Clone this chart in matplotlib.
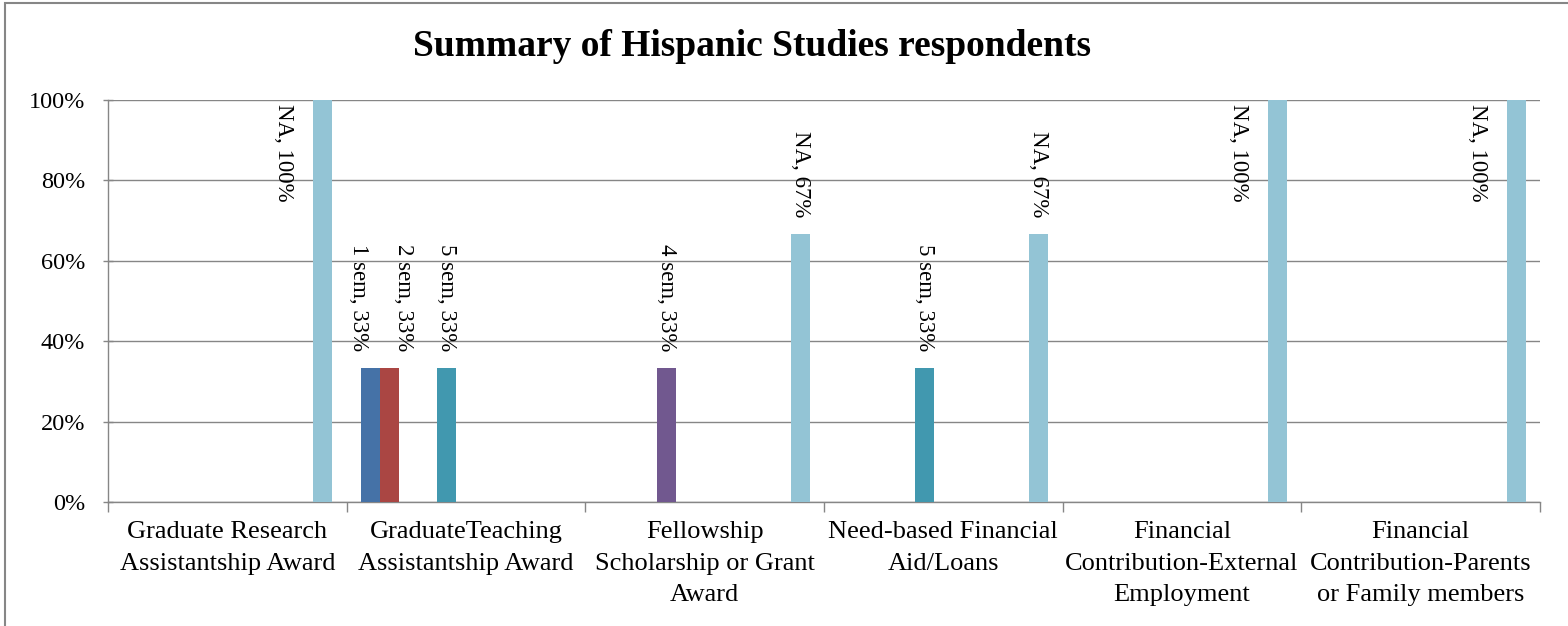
import numpy as np
import matplotlib
matplotlib.use("Agg")
import matplotlib.pyplot as plt
from matplotlib.patches import Rectangle

plt.rcParams['font.family'] = ['Liberation Serif', 'DejaVu Serif']

categories = ["Graduate Research\nAssistantship Award",
              "GraduateTeaching\nAssistantship Award",
              "Fellowship\nScholarship or Grant\nAward",
              "Need-based Financial\nAid/Loans",
              "Financial\nContribution-External\nEmployment",
              "Financial\nContribution-Parents\nor Family members"]

series_names = ["1 sem", "2 sem", "3 sem", "4 sem", "5 sem", "6 sem",
                "7 sem", "8 sem", "9 sem", "10 sem", "NA"]

# share of respondents per category, one list per series
sem1 = [0, 0.333, 0, 0, 0, 0]
sem2 = [0, 0.333, 0, 0, 0, 0]
sem3 = [0, 0, 0, 0, 0, 0]
sem4 = [0, 0, 0.333, 0, 0, 0]
sem5 = [0, 0.333, 0, 0.333, 0, 0]
sem6 = [0, 0, 0, 0, 0, 0]
sem7 = [0, 0, 0, 0, 0, 0]
sem8 = [0, 0, 0, 0, 0, 0]
sem9 = [0, 0, 0, 0, 0, 0]
sem10 = [0, 0, 0, 0, 0, 0]
na = [1.0, 0, 0.667, 0.667, 1.0, 1.0]

values = [sem1, sem2, sem3, sem4, sem5, sem6, sem7, sem8, sem9, sem10, na]

colors = ["#4572A7", "#AA4643", "#89A54E", "#71588F", "#4198AF", "#DB843D",
          "#93A9CF", "#D19392", "#B9CD96", "#A99BBD", "#93C4D5"]

fig = plt.figure(figsize=(15.68, 6.26), dpi=100)
ax = fig.add_axes([108/1568, 1 - 502/626, (1540 - 108)/1568, 402/626])

n = len(series_names)
width = 1.0 / (n + 1.5)
x = np.arange(len(categories))

for i, (name, vals) in enumerate(zip(series_names, values)):
    pos = x - 0.5 + width * 0.75 + width * (i + 0.5)
    ax.bar(pos, vals, width, color=colors[i], zorder=3)
    for j, v in enumerate(vals):
        if v == 0:
            continue
        txt = "%s, %d%%" % (name, round(v * 100))
        if v >= 0.999:
            # label does not fit above a full bar, so Excel puts it beside
            ax.annotate(txt, (pos[j], v), xytext=(-28, -3), textcoords='offset points',
                        rotation=-90, ha='center', va='top', fontsize=16.5, zorder=4)
        else:
            dx = 0
            if i + 1 < n and values[i + 1][j] > 0:
                dx = -9
            elif i > 0 and values[i - 1][j] > 0:
                dx = 10
            ax.annotate(txt, (pos[j], v), xytext=(dx, 12), textcoords='offset points',
                        rotation=-90, ha='center', va='bottom', fontsize=16.5, zorder=4)

ax.set_xlim(-0.5, len(categories) - 0.5)
ax.set_ylim(0, 1)
ax.set_yticks(np.arange(0, 1.01, 0.2))
ax.set_yticklabels(["%d%%" % t for t in range(0, 101, 20)])
ax.yaxis.grid(True, color="#868686", linewidth=1.0, zorder=0)
ax.set_axisbelow(True)

ax.set_xticks(np.arange(-0.5, len(categories)), minor=False)
ax.set_xticklabels([])
ax.set_xticks(x, minor=True)
ax.set_xticklabels(categories, minor=True, fontsize=19, linespacing=1.56)
ax.tick_params(axis='x', which='major', direction='out', length=7, color="#868686", width=1)
ax.tick_params(axis='x', which='minor', length=0, pad=14)
ax.tick_params(axis='y', direction='inout', length=7, color="#868686", width=1,
               labelsize=17.5, pad=13)

for s in ['top', 'right']:
    ax.spines[s].set_visible(False)
for s in ['left', 'bottom']:
    ax.spines[s].set_color("#868686")
    ax.spines[s].set_linewidth(1.0)

fig.text(752/1568, 1 - 46/626, "Summary of Hispanic Studies respondents",
         ha='center', va='center', fontsize=27, fontweight='bold')

# chart area border
fig.patches.append(Rectangle((5/1568, -0.1), 1.2, 1.1 - 3/626, transform=fig.transFigure,
                             fill=False, edgecolor="#868686", linewidth=1.5))

fig.savefig("out.png", dpi=100)
